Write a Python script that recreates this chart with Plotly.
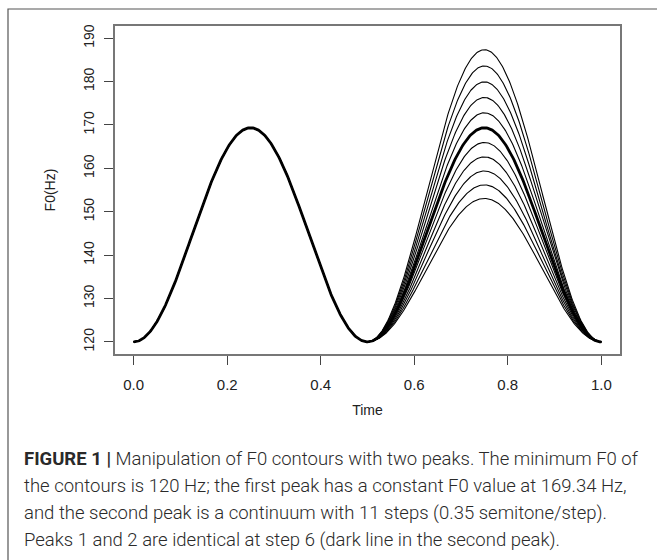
import numpy as np
import plotly.graph_objects as go

# ---- data ----
min_f0 = 120.0                     # Hz, contour minimum
peak1_f0 = 169.34                  # Hz, constant first peak
peak2_steps = list(range(1, 12))   # 11-step continuum
peak2_f0 = [153.06, 156.18, 159.38, 162.63, 165.95, 169.34,
            172.80, 176.33, 179.93, 183.60, 187.35]
dark_step = 6
x_ticks = [0.0, 0.2, 0.4, 0.6, 0.8, 1.0]
x_tick_labels = ["0.0", "0.2", "0.4", "0.6", "0.8", "1.0"]
y_ticks = [120, 130, 140, 150, 160, 170, 180, 190]
caption_lines = [
    "<b>FIGURE 1 |</b> Manipulation of F0 contours with two peaks. The minimum F0 of",
    "the contours is 120 Hz; the first peak has a constant F0 value at 169.34 Hz,",
    "and the second peak is a continuum with 11 steps (0.35 semitone/step).",
    "Peaks 1 and 2 are identical at step 6 (dark line in the second peak).",
]

# contour model: raised-cosine rise/fall between minimum and each peak
t = np.linspace(0, 1, 601)
shape = (1 - np.cos(4 * np.pi * t)) / 2


def contour(p2):
    peak = np.where(t <= 0.5, peak1_f0, p2)
    return min_f0 + (peak - min_f0) * shape


fig = go.Figure()
for step, p2 in zip(peak2_steps, peak2_f0):
    if step == dark_step:
        continue
    fig.add_trace(go.Scatter(x=t, y=contour(p2), mode="lines",
                             line=dict(color="black", width=1.1),
                             showlegend=False, hoverinfo="skip"))
fig.add_trace(go.Scatter(x=t, y=contour(peak2_f0[dark_step - 1]), mode="lines",
                         line=dict(color="black", width=2.8),
                         showlegend=False, hoverinfo="skip"))

L, R, T, B = 115, 37, 26, 206
W, H = 657, 560
pw, ph = W - L - R, H - T - B


def px(xp):
    return (xp - L) / pw


def py(yp):
    return (H - B - yp) / ph


axis_font = "Liberation Sans, Arial, sans-serif"
fig.update_layout(
    width=W, height=H,
    margin=dict(l=L, r=R, t=T, b=B),
    paper_bgcolor="white", plot_bgcolor="white",
    xaxis=dict(range=[-0.04, 1.04], tickvals=x_ticks, ticktext=x_tick_labels,
               ticks="outside", ticklen=9, tickwidth=1.2, tickcolor="#444",
               tickfont=dict(family=axis_font, size=15, color="#222"),
               ticklabelstandoff=7,
               showline=True, linecolor="#777", linewidth=1.5, mirror=True,
               showgrid=False, zeroline=False,
               title=dict(text="Time", standoff=13,
                          font=dict(family=axis_font, size=14, color="#222"))),
    yaxis=dict(range=[117.2, 192.8], tickvals=y_ticks,
               ticks="outside", ticklen=9, tickwidth=1.2, tickcolor="#444",
               tickangle=-90,
               tickfont=dict(family=axis_font, size=14, color="#222"),
               ticklabelstandoff=5,
               showline=True, linecolor="#777", linewidth=1.5, mirror=True,
               showgrid=False, zeroline=False,
               title=dict(text="F0(Hz)", standoff=22,
                          font=dict(family=axis_font, size=14, color="#222"))),
)

# outer figure frame (left and top edges visible)
fig.add_shape(type="rect", xref="paper", yref="paper",
              x0=px(8), x1=px(700), y0=py(600), y1=py(9),
              line=dict(color="#555", width=1.2), layer="below")

cap_font = dict(family="Roboto, Liberation Sans, sans-serif", size=18.5,
                color="#2a2a2a", weight=300)
for i, line in enumerate(caption_lines):
    fig.add_annotation(text=line, xref="paper", yref="paper",
                       x=px(22), y=py(459 + 27 * i), xanchor="left",
                       yanchor="middle", showarrow=False, font=cap_font)

fig.write_html("out.html")
